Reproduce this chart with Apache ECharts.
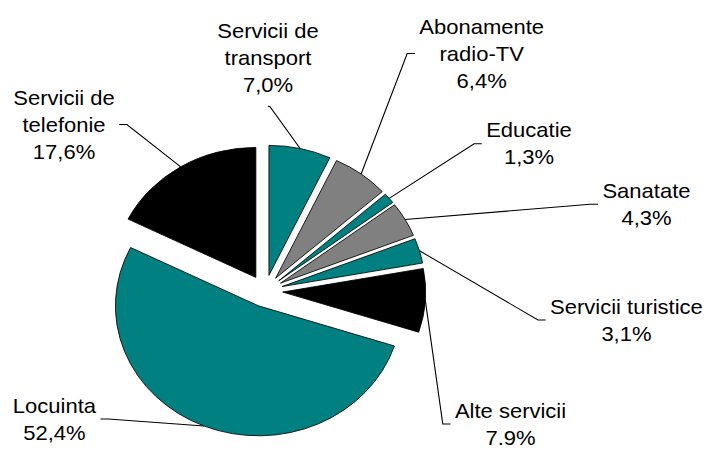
<!DOCTYPE html>
<html>
<head>
<meta charset="UTF-8">
<title>Structura cheltuielilor pentru servicii</title>
<script src="https://cdn.jsdelivr.net/npm/echarts@6/dist/echarts.min.js"></script>
<style>
html, body { margin: 0; padding: 0; background: #fff; overflow: hidden; }
/* the original picture is stretched a bit horizontally */
#main { width: 645px; height: 449px; transform: scaleX(1.1); transform-origin: 0 0; }
</style>
</head>
<body>
<div id="main"></div>
<script type="text/javascript">
var categories = ['Servicii de\ntransport', 'Abonamente\nradio-TV', 'Educatie', 'Sanatate',
                  'Servicii turistice', 'Alte servicii', 'Locuinta', 'Servicii de\ntelefonie'];
var values = [7.0, 6.4, 1.3, 4.3, 3.1, 7.9, 52.4, 17.6];
var pctLabels = ['7,0%', '6,4%', '1,3%', '4,3%', '3,1%', '7.9%', '52,4%', '17,6%'];

var colors = ['#008080', '#808080', '#008080', '#808080', '#008080', '#000000', '#008080', '#000000'];
// label block centres (chart px, before the stretch)
var labelPos = [[243.6, 57.5], [437.9, 53.5], [480.9, 143.8], [587.7, 204.3],
                [569.5, 320], [464.1, 424], [49.5, 419], [58.2, 124.5]];
var explode = 16;
var pieCenter = [241, 291];
var pieRadius = 130;

var total = 0;
for (var i = 0; i < values.length; i++) total += values[i];

// same shift the pie applies to a selected slice
function sliceShift(idx) {
    var cum = 0;
    for (var k = 0; k < idx; k++) cum += values[k];
    var mid = -Math.PI / 2 + 2 * Math.PI * (cum + values[idx] / 2) / total;
    return [Math.cos(mid) * explode, Math.sin(mid) * explode];
}

var sliceData = [], labelData = [];
for (var i = 0; i < categories.length; i++) {
    sliceData.push({ name: categories[i], value: values[i], selected: true, itemStyle: { color: colors[i] } });
    labelData.push({ name: categories[i], value: values[i] });
}

var myChart = echarts.init(document.getElementById('main'), null, { renderer: 'svg' });
var option = {
    animation: false,
    series: [{
        // exploded slices
        type: 'pie',
        center: pieCenter,
        radius: pieRadius,
        startAngle: 90,
        clockwise: true,
        selectedMode: 'multiple',
        selectedOffset: explode,
        emphasis: { disabled: true },
        itemStyle: { borderColor: '#000', borderWidth: 0.8 },
        label: { show: false },
        labelLine: { show: false },
        data: sliceData
    }, {
        // invisible copy that carries the labels and leader lines
        type: 'pie',
        silent: true,
        center: pieCenter,
        radius: pieRadius,
        startAngle: 90,
        clockwise: true,
        avoidLabelOverlap: false,
        emphasis: { disabled: true },
        itemStyle: { color: 'rgba(0,0,0,0)', borderWidth: 0 },
        label: {
            show: true,
            position: 'outside',
            color: '#000',
            fontFamily: 'Liberation Sans, Arial, sans-serif',
            fontSize: 20,
            lineHeight: 27,
            align: 'center',
            formatter: function (p) { return p.name + '\n' + pctLabels[p.dataIndex]; }
        },
        labelLine: {
            show: true,
            length: 10,
            length2: 10,
            lineStyle: { color: '#000', width: 1 }
        },
        labelLayout: function (p) {
            var i = p.dataIndex;
            var cx = labelPos[i][0], cy = labelPos[i][1];
            var w = p.labelRect.width, h = p.labelRect.height;
            var s = sliceShift(i);
            var a = [p.labelLinePoints[0][0] + s[0], p.labelLinePoints[0][1] + s[1]];
            var end, elbow;
            if (Math.abs(cx - a[0]) < w / 2) {
                end = [cx, cy + h / 2 + 8];
                elbow = [cx + 2, end[1] + 1];
            } else if (cx < a[0]) {
                end = [cx + w / 2 + 4, cy];
                elbow = [end[0] + 7, cy];
            } else {
                end = [cx - w / 2 - 4, cy];
                elbow = [end[0] - 7, cy];
            }
            return {
                x: cx,
                y: cy,
                align: 'center',
                verticalAlign: 'middle',
                labelLinePoints: [a, elbow, end]
            };
        },
        data: labelData
    }]
};
myChart.setOption(option);
</script>
</body>
</html>
